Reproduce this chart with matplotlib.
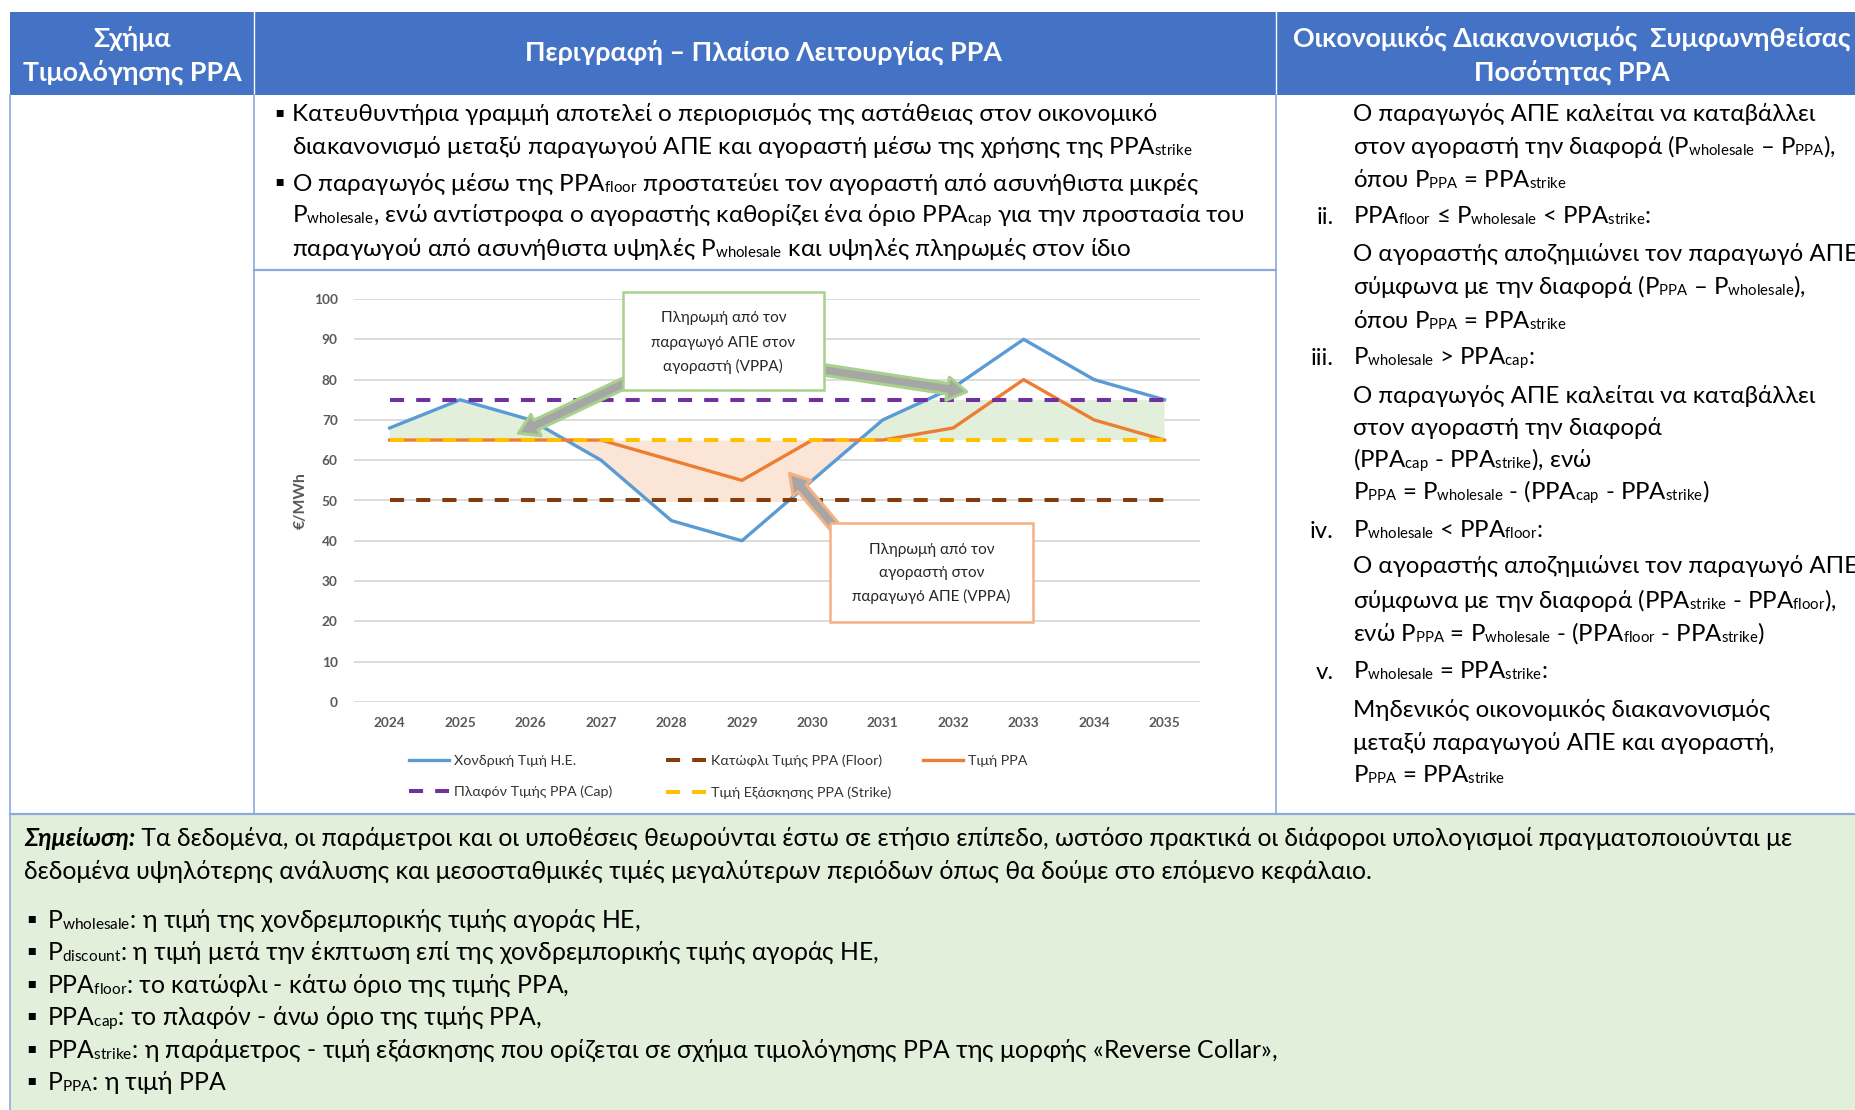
import numpy as np
import matplotlib
matplotlib.use('Agg')
import matplotlib.pyplot as plt
from matplotlib.patches import Rectangle
from matplotlib.font_manager import FontProperties

# smaller, less-dropped subscripts (closer to the Word-style subscripts of the original)
try:
    import matplotlib._mathtext as _mt
    _mt.SHRINK_FACTOR = 0.62
    _mt.FontConstantsBase.subdrop = 0.1
    _mt.FontConstantsBase.sub1 = 0.1
except Exception:
    pass

FAM = ['Lato', 'Open Sans', 'DejaVu Sans']
plt.rcParams['font.family'] = FAM
plt.rcParams['mathtext.fontset'] = 'custom'
plt.rcParams['mathtext.rm'] = 'Lato'
plt.rcParams['mathtext.it'] = 'Lato:italic'
plt.rcParams['mathtext.bf'] = 'Lato:bold'

# ------------------------------------------------------------------ data
years = ['2024', '2025', '2026', '2027', '2028', '2029',
         '2030', '2031', '2032', '2033', '2034', '2035']
wholesale = [68, 75, 70, 60, 45, 40, 55, 70, 78, 90, 80, 75]
ppa_price = [65, 65, 65, 65, 60, 55, 65, 65, 68, 80, 70, 65]
ppa_floor = [50, 50, 50, 50, 50, 50, 50, 50, 50, 50, 50, 50]
ppa_cap = [75, 75, 75, 75, 75, 75, 75, 75, 75, 75, 75, 75]
ppa_strike = [65, 65, 65, 65, 65, 65, 65, 65, 65, 65, 65, 65]
yticks = [0, 10, 20, 30, 40, 50, 60, 70, 80, 90, 100]

lab_wholesale = 'Χονδρική Τιμή Η.Ε.'
lab_floor = 'Κατώφλι Τιμής PPA (Floor)'
lab_ppa = 'Τιμή PPA'
lab_cap = 'Πλαφόν Τιμής PPA (Cap)'
lab_strike = 'Τιμή Εξάσκησης PPA (Strike)'
y_label = '€/MWh'

box_green = ['Πληρωμή από τον', 'παραγωγό ΑΠΕ στον', 'αγοραστή (VPPA)']
box_orange = ['Πληρωμή από τον', 'αγοραστή στον', 'παραγωγό ΑΠΕ (VPPA)']

hdr_scheme = ['Σχήμα', 'Τιμολόγησης PPA']
hdr_desc = 'Περιγραφή – Πλαίσιο Λειτουργίας PPA'
hdr_settle = ['Οικονομικός Διακανονισμός  Συμφωνηθείσας', 'Ποσότητας PPA']

desc_lines = [
    ('▪', 'Κατευθυντήρια γραμμή αποτελεί ο περιορισμός της αστάθειας στον οικονομικό'),
    ('', r'διακανονισμό μεταξύ παραγωγού ΑΠΕ και αγοραστή μέσω της χρήσης της PPA$_{\mathrm{strike}}$'),
    ('▪', r'Ο παραγωγός μέσω της PPA$_{\mathrm{floor}}$ προστατεύει τον αγοραστή από ασυνήθιστα μικρές'),
    ('', r'P$_{\mathrm{wholesale}}$, ενώ αντίστροφα ο αγοραστής καθορίζει ένα όριο PPA$_{\mathrm{cap}}$ για την προστασία του'),
    ('', r'παραγωγού από ασυνήθιστα υψηλές P$_{\mathrm{wholesale}}$ και υψηλές πληρωμές στον ίδιο'),
]

right_lines = [
    ('', 'Ο παραγωγός ΑΠΕ καλείται να καταβάλλει'),
    ('', r'στον αγοραστή την διαφορά (P$_{\mathrm{wholesale}}$ – P$_{\mathrm{PPA}}$),'),
    ('', r'όπου P$_{\mathrm{PPA}}$ = PPA$_{\mathrm{strike}}$'),
    ('ii.', r'PPA$_{\mathrm{floor}}$ ≤ P$_{\mathrm{wholesale}}$ < PPA$_{\mathrm{strike}}$:'),
    ('', 'Ο αγοραστής αποζημιώνει τον παραγωγό ΑΠΕ'),
    ('', r'σύμφωνα με την διαφορά (P$_{\mathrm{PPA}}$ – P$_{\mathrm{wholesale}}$),'),
    ('', r'όπου P$_{\mathrm{PPA}}$ = PPA$_{\mathrm{strike}}$'),
    ('iii.', r'P$_{\mathrm{wholesale}}$ > PPA$_{\mathrm{cap}}$:'),
    ('', 'Ο παραγωγός ΑΠΕ καλείται να καταβάλλει'),
    ('', 'στον αγοραστή την διαφορά'),
    ('', r'(PPA$_{\mathrm{cap}}$ - PPA$_{\mathrm{strike}}$), ενώ'),
    ('', r'P$_{\mathrm{PPA}}$ = P$_{\mathrm{wholesale}}$ - (PPA$_{\mathrm{cap}}$ - PPA$_{\mathrm{strike}}$)'),
    ('iv.', r'P$_{\mathrm{wholesale}}$ < PPA$_{\mathrm{floor}}$:'),
    ('', 'Ο αγοραστής αποζημιώνει τον παραγωγό ΑΠΕ'),
    ('', r'σύμφωνα με την διαφορά (PPA$_{\mathrm{strike}}$ - PPA$_{\mathrm{floor}}$),'),
    ('', r'ενώ P$_{\mathrm{PPA}}$ = P$_{\mathrm{wholesale}}$ - (PPA$_{\mathrm{floor}}$ - PPA$_{\mathrm{strike}}$)'),
    ('v.', r'P$_{\mathrm{wholesale}}$ = PPA$_{\mathrm{strike}}$:'),
    ('', 'Μηδενικός οικονομικός διακανονισμός'),
    ('', 'μεταξύ παραγωγού ΑΠΕ και αγοραστή,'),
    ('', r'P$_{\mathrm{PPA}}$ = PPA$_{\mathrm{strike}}$'),
]

note_bold = 'Σημείωση:'
note_l1 = (' Τα δεδομένα, οι παράμετροι και οι υποθέσεις θεωρούνται έστω σε ετήσιο επίπεδο, '
           'ωστόσο πρακτικά οι διάφοροι υπολογισμοί πραγματοποιούνται με')
note_l2 = ('δεδομένα υψηλότερης ανάλυσης και μεσοσταθμικές τιμές μεγαλύτερων περιόδων '
           'όπως θα δούμε στο επόμενο κεφάλαιο.')
defs = [
    r'P$_{\mathrm{wholesale}}$: η τιμή της χονδρεμπορικής τιμής αγοράς ΗΕ,',
    r'P$_{\mathrm{discount}}$: η τιμή μετά την έκπτωση επί της χονδρεμπορικής τιμής αγοράς ΗΕ,',
    r'PPA$_{\mathrm{floor}}$: το κατώφλι - κάτω όριο της τιμής PPA,',
    r'PPA$_{\mathrm{cap}}$: το πλαφόν - άνω όριο της τιμής PPA,',
    r'PPA$_{\mathrm{strike}}$: η παράμετρος - τιμή εξάσκησης που ορίζεται σε σχήμα τιμολόγησης PPA της μορφής «Reverse Collar»,',
    r'P$_{\mathrm{PPA}}$: η τιμή PPA',
]

# ------------------------------------------------------------------ style
C_WH, C_PPA, C_FL, C_CAP, C_ST = '#5B9BD5', '#ED7D31', '#843C0C', '#7030A0', '#FFC000'
C_HDR, C_NOTE, C_BORDER = '#4472C4', '#E2EFDA', '#8EAADB'
DASH = (0, (3.5, 3.0))

W, H = 1856, 1110
EM = 100 / 72
fig = plt.figure(figsize=(W / 100, H / 100), dpi=100)
fig.patch.set_facecolor('white')
bg = fig.add_axes([0, 0, 1, 1])
bg.set_xlim(0, W)
bg.set_ylim(H, 0)
bg.axis('off')
R = fig.canvas.get_renderer()


def fprop(size, weight='normal', style='normal'):
    return FontProperties(family=FAM, size=size, weight=weight, style=style)


def text_w(s, size=10.0, weight='normal', style='normal', math=False):
    return R.get_text_width_height_descent(s, fprop(size, weight, style), ismath=math)[0]


def fit(s, target, weight='normal', style='normal'):
    return 10.0 * target / text_w(s, 10.0, weight, style)


def put(x, yc, s, size, ha='left', color='black', **kw):
    return bg.text(x, yc + 0.265 * size * EM, s, fontsize=size, ha=ha,
                   va='baseline', color=color, **kw)


# ------------------------------------------------------------------ table
HDR_TOP, HDR_BOT, MID, NOTE_TOP = 12, 95, 270, 814
XL, X1, X2 = 10, 254, 1276
bg.add_patch(Rectangle((XL, HDR_TOP), W - XL, HDR_BOT - HDR_TOP, fc=C_HDR, ec='none'))
bg.add_patch(Rectangle((XL, NOTE_TOP), W - XL, H - NOTE_TOP, fc=C_NOTE, ec='none'))
for xx in (X1, X2):
    bg.plot([xx, xx], [HDR_TOP, HDR_BOT], color='white', lw=1)
    bg.plot([xx, xx], [HDR_BOT, NOTE_TOP], color=C_BORDER, lw=1.2)
bg.plot([XL, XL], [HDR_BOT, H], color=C_BORDER, lw=1.2)
bg.plot([X1, X2], [MID, MID], color=C_BORDER, lw=1.6)
bg.plot([XL, W], [NOTE_TOP, NOTE_TOP], color=C_BORDER, lw=1.6)

hdr_size = fit(hdr_desc, 478, 'bold')
put(132, 40, hdr_scheme[0], hdr_size, ha='center', color='white', fontweight='bold')
put(132, 74, hdr_scheme[1], hdr_size, ha='center', color='white', fontweight='bold')
put(764, 54, hdr_desc, hdr_size, ha='center', color='white', fontweight='bold')
put(1572, 40, hdr_settle[0], hdr_size, ha='center', color='white', fontweight='bold')
put(1572, 74, hdr_settle[1], hdr_size, ha='center', color='white', fontweight='bold')

desc_size = fit(desc_lines[0][1], 869)
desc_y = [114.8, 148.0, 184.7, 216.6, 249.8]
for (b, s), y in zip(desc_lines, desc_y):
    if b:
        put(279, y - 1, b, desc_size * 1.05, ha='center')
    put(292, y, s, desc_size)

right_size = fit(right_lines[0][1], 462)
right_y = [114.8, 148.0, 181.1, 217.8, 254.5, 287.6, 322.0, 358.7, 396.5, 428.5,
           461.6, 493.6, 531.5, 567.0, 601.3, 634.5, 672.4, 710.2, 743.4, 776.5]
for (num, s), y in zip(right_lines, right_y):
    if num:
        put(1334, y, num, right_size, ha='right')
    put(1353, y, s, right_size)

wb = text_w(note_bold, 10, 'bold', 'italic')
wr = text_w(note_l1, 10)
note_size = 10.0 * (1796 - 24) / (wb + wr)
put(24, 839.3, note_bold, note_size, fontweight='bold', fontstyle='italic')
put(24 + wb * note_size / 10.0, 839.3, note_l1, note_size)
put(24, 872.4, note_l2, note_size)
def_y = [920.9, 952.9, 986.0, 1018.0, 1051.0, 1083.0]
for s, y in zip(defs, def_y):
    put(31, y - 1, '▪', note_size * 1.05, ha='center')
    put(47, y, s, note_size)

# ------------------------------------------------------------------ chart
AX_L, AX_R, AX_T, AX_B = 354.5, 1199.7, 299.0, 702.0
ax = fig.add_axes([AX_L / W, 1 - AX_B / H, (AX_R - AX_L) / W, (AX_B - AX_T) / H])
ax.set_facecolor('none')
x = np.arange(len(years))
ax.set_xlim(-0.5, len(years) - 0.5)
ax.set_ylim(yticks[0], yticks[-1])
ax.set_yticks(yticks)
ax.set_xticks(x, years)
ax.yaxis.grid(True, color='#D9D9D9', lw=1.3)
ax.set_axisbelow(True)
for sp in ax.spines.values():
    sp.set_visible(False)
tick_size = fit('2024', 32, 'bold')
ax.tick_params(axis='both', length=0, labelsize=tick_size, labelcolor='#595959')
ax.tick_params(axis='x', pad=11)
ax.tick_params(axis='y', pad=12)
for lbl in ax.get_xticklabels() + ax.get_yticklabels():
    lbl.set_fontweight('bold')

wh = np.array(wholesale, float)
st = np.array(ppa_strike, float)
g = ax.fill_between(x, st, wh, where=wh >= st, interpolate=True, color=C_NOTE, lw=0, zorder=1)
g.set_clip_path(Rectangle((-0.5, ppa_strike[0]), len(years), ppa_cap[0] - ppa_strike[0],
                          transform=ax.transData))
o = ax.fill_between(x, st, wh, where=wh <= st, interpolate=True, color='#FBE5D6', lw=0, zorder=1)
o.set_clip_path(Rectangle((-0.5, ppa_floor[0]), len(years), ppa_strike[0] - ppa_floor[0],
                          transform=ax.transData))

l_wh, = ax.plot(x, wholesale, color=C_WH, lw=2.4, zorder=3, label=lab_wholesale)
l_fl, = ax.plot(x, ppa_floor, color=C_FL, lw=2.9, ls=DASH, zorder=3, label=lab_floor)
l_ppa, = ax.plot(x, ppa_price, color=C_PPA, lw=2.4, zorder=4, label=lab_ppa)
l_cap, = ax.plot(x, ppa_cap, color=C_CAP, lw=2.9, ls=DASH, zorder=5, label=lab_cap)
l_st, = ax.plot(x, ppa_strike, color=C_ST, lw=2.9, ls=DASH, zorder=5, label=lab_strike)

# call-out boxes and arrows
box_size = fit(box_green[0], 126)
ax.add_patch(Rectangle((3.313, 77.42), 2.858, 24.39, fc='white', ec='#A9D18E', lw=1.8,
                       clip_on=False, zorder=8))
for s, yy in zip(box_green, [95.21, 89.01, 83.37]):
    ax.text(4.737, yy, s, ha='center', va='center', fontsize=box_size, color='#262626',
            zorder=9, clip_on=False)
ax.add_patch(Rectangle((6.252, 19.93), 2.878, 24.49, fc='white', ec='#F4B183', lw=1.8,
                       clip_on=False, zorder=8))
for s, yy in zip(box_orange, [37.77, 31.91, 26.13]):
    ax.text(7.691, yy, s, ha='center', va='center', fontsize=box_size, color='#262626',
            zorder=9, clip_on=False)

AST = 'simple,head_length=0.7,head_width=0.85,tail_width=0.38'
for tail, tip, ec in [((3.462, 80.17), (1.826, 66.67), '#A9D18E'),
                      ((6.002, 82.83), (8.193, 77.0), '#A9D18E'),
                      ((6.406, 41.64), (5.676, 56.75), '#F4B183')]:
    ax.annotate('', xy=tip, xytext=tail, zorder=7,
                arrowprops=dict(arrowstyle=AST, fc='#A6A6A6', ec=ec, lw=2.2,
                                mutation_scale=20, shrinkA=0, shrinkB=0))

ylab_size = fit(y_label, 57, 'bold')
bg.text(300.5, 501, y_label, rotation=90, ha='center', va='center', fontsize=ylab_size,
        fontweight='bold', color='#595959')

# legend (three columns, positioned like the original)
leg_size = fit(lab_cap, 159)
lp_h = R.get_text_width_height_descent('lp', fprop(leg_size), ismath=False)[1]
em = leg_size * EM
for hs, xp in [([l_wh, l_cap], 409), ([l_fl, l_st], 666), ([l_ppa], 923)]:
    fig.legend(hs, [h.get_label() for h in hs], loc='upper left',
               bbox_to_anchor=(xp / W, 1 - (760.5 - lp_h / 2) / H),
               frameon=False, borderpad=0, borderaxespad=0,
               handlelength=40 / em, handletextpad=5 / em,
               labelspacing=(31 - lp_h) / em, prop=fprop(leg_size), labelcolor='#333333')

fig.savefig('out.png', dpi=100, facecolor='white')
